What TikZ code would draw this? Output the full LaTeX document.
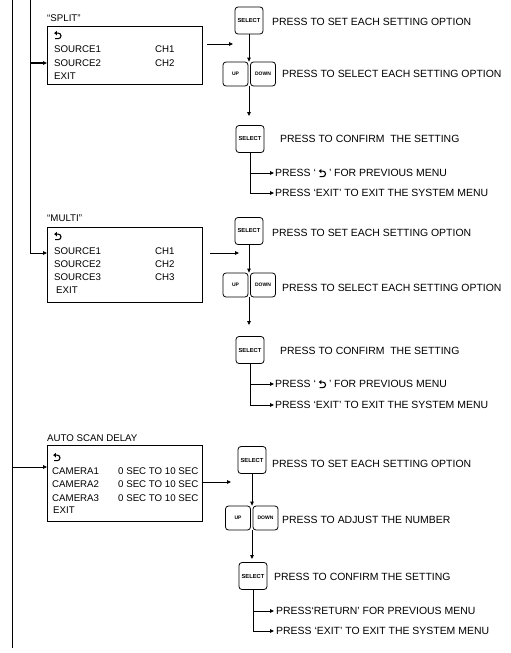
\documentclass[tikz,border=0pt]{standalone}
\usepackage{fontspec}
\setmainfont{Liberation Sans}
\usetikzlibrary{arrows.meta}
\newcommand\retsym{\tikz[baseline=0pt,x=1pt,y=1pt,line width=1.1pt]{\draw (0.8,0) -- (4,0) arc[start angle=-90,end angle=90,radius=2.8] -- (2,5.6); \fill (0,5.6) -- (2.7,7.9) -- (2.7,3.3) -- cycle;}}
\tikzset{
  menubox/.style={draw, line width=0.8pt, anchor=north west, inner sep=0pt, minimum width=155pt},
  mtxt/.style={anchor=west, inner sep=0pt, font=\fontsize{9.7}{11}\selectfont},
  ptxt/.style={anchor=west, inner sep=0pt, font=\fontsize{10.45}{12}\selectfont},
  selbtn/.style={draw, rounded corners=3pt, line width=0.8pt, minimum width=28pt, minimum height=27pt, inner sep=0pt, font=\bfseries\fontsize{5.8}{7}\selectfont},
  udbtn/.style={draw, rounded corners=3pt, line width=0.8pt, minimum width=25pt, minimum height=24pt, inner sep=0pt, font=\bfseries\fontsize{5}{6}\selectfont},
  conn/.style={line width=0.8pt},
  arr/.style={conn, -{Triangle[length=4pt,width=3.6pt]}},
}
\begin{document}
\begin{tikzpicture}[x=1pt,y=-1pt]
\useasboundingbox (0,0) rectangle (511,653);

% ---------- menu boxes ----------
\node[mtxt] (splitlbl) at (47,18) {“SPLIT”};
\node[menubox, minimum height=58pt] (splitbox) at (47,26) {};
\node[mtxt] (si) at (54,35) {\retsym};
\node[mtxt] (s1) at (54,49) {SOURCE1};
\node[mtxt] (s1c) at (155,49) {CH1};
\node[mtxt] (s2) at (54,63) {SOURCE2};
\node[mtxt] (s2c) at (155,63) {CH2};
\node[mtxt] (sx) at (54,76) {EXIT};

\node[mtxt] (multilbl) at (47,218) {“MULTI”};
\node[menubox, minimum height=75pt] (multibox) at (47,227) {};
\node[mtxt] (mi) at (54,236) {\retsym};
\node[mtxt] (m1) at (54,251) {SOURCE1};
\node[mtxt] (m1c) at (155,251) {CH1};
\node[mtxt] (m2) at (54,264) {SOURCE2};
\node[mtxt] (m2c) at (155,264) {CH2};
\node[mtxt] (m3) at (54,277) {SOURCE3};
\node[mtxt] (m3c) at (155,277) {CH3};
\node[mtxt] (mx) at (56,290) {EXIT};

\node[mtxt] (autolbl) at (47,438) {AUTO SCAN DELAY};
\node[menubox, minimum height=76pt] (autobox) at (47,445) {};
\node[mtxt] (ai) at (53,457) {\retsym};
\node[mtxt] (a1) at (52,471) {CAMERA1};
\node[mtxt] (a1c) at (118,471) {0 SEC TO 10 SEC};
\node[mtxt] (a2) at (52,484) {CAMERA2};
\node[mtxt] (a2c) at (118,484) {0 SEC TO 10 SEC};
\node[mtxt] (a3) at (52,498) {CAMERA3};
\node[mtxt] (a3c) at (118,498) {0 SEC TO 10 SEC};
\node[mtxt] (ax) at (53,510) {EXIT};

% ---------- left trunk ----------
\coordinate (t1top) at (12,0);
\coordinate (t1bot) at (12,648);
\coordinate (t2top) at (30,0);
\coordinate (jsplit) at (30,63);
\coordinate (jmulti) at (30,253);
\coordinate (jauto) at (12,467);
\draw[conn] (t1top) -- (t1bot);
\draw[arr] (t2top) -- (jmulti) -- (jmulti -| multibox.west);
\draw[arr, line width=1.1pt] (jsplit) -- (jsplit -| splitbox.west);
\draw[arr] (jauto) -- (jauto -| autobox.west);

% ---------- section 1 ----------
\node[selbtn] (sel1) at (249,20.5) {SELECT};
\node[ptxt] (t1) at (272,22) {PRESS TO SET EACH SETTING OPTION};
\node[udbtn] (up1) at (235.5,74) {UP};
\node[udbtn] (dn1) at (263,74) {DOWN};
\node[ptxt] (t2) at (282,74) {PRESS TO SELECT EACH SETTING OPTION};
\node[selbtn] (sel2) at (250,139) {SELECT};
\node[ptxt] (t3) at (280,139) {PRESS TO CONFIRM~ THE SETTING};
\node[ptxt] (r1a) at (275,173) {PRESS ‘ \retsym\ ’ FOR PREVIOUS MENU};
\node[ptxt] (r1b) at (275,193) {PRESS ‘EXIT’ TO EXIT THE SYSTEM MENU};
\coordinate (o1s) at (207,44);
\coordinate (o1e) at (233,44);
\coordinate (c1) at (249,116);
\draw[arr] (o1s) -- (o1e);
\draw[arr] (sel1.south) -- (sel1.south |- up1.north);
\draw[arr] (sel1.south |- up1.south) -- (c1);
\draw[arr, shorten >=1pt] (sel2.south) |- (r1a.west);
\draw[arr, shorten >=1pt] (sel2.south) |- (r1b.west);

% ---------- section 2 ----------
\node[selbtn] (sel3) at (249,231) {SELECT};
\node[ptxt] (t4) at (272,233) {PRESS TO SET EACH SETTING OPTION};
\node[udbtn] (up3) at (235.5,285) {UP};
\node[udbtn] (dn3) at (263,285) {DOWN};
\node[ptxt] (t5) at (282,288) {PRESS TO SELECT EACH SETTING OPTION};
\node[selbtn] (sel4) at (250,350) {SELECT};
\node[ptxt] (t6) at (280,351) {PRESS TO CONFIRM~ THE SETTING};
\node[ptxt] (r2a) at (275,384) {PRESS ‘ \retsym\ ’ FOR PREVIOUS MENU};
\node[ptxt] (r2b) at (275,405) {PRESS ‘EXIT’ TO EXIT THE SYSTEM MENU};
\coordinate (o2s) at (210,253);
\coordinate (o2e) at (239,253);
\coordinate (c2) at (249,325);
\draw[arr] (o2s) -- (o2e);
\draw[arr] (sel3.south) -- (sel3.south |- up3.north);
\draw[arr] (sel3.south |- up3.south) -- (c2);
\draw[arr, shorten >=1pt] (sel4.south) |- (r2a.west);
\draw[arr, shorten >=1pt] (sel4.south) |- (r2b.west);

% ---------- section 3 ----------
\node[selbtn] (sel5) at (252,460) {SELECT};
\node[ptxt] (t7) at (272,464) {PRESS TO SET EACH SETTING OPTION};
\node[udbtn] (up5) at (238,518) {UP};
\node[udbtn] (dn5) at (265.5,518) {DOWN};
\node[ptxt] (t8) at (282,520) {PRESS TO ADJUST THE NUMBER};
\node[selbtn] (sel6) at (253,576) {SELECT};
\node[ptxt] (t9) at (274,577) {PRESS TO CONFIRM THE SETTING};
\node[ptxt] (r3a) at (276,611) {PRESS‘RETURN’ FOR PREVIOUS MENU};
\node[ptxt] (r3b) at (276,631) {PRESS ‘EXIT’ TO EXIT THE SYSTEM MENU};
\coordinate (o3s) at (203,482);
\coordinate (o3e) at (231,482);
\coordinate (c3) at (252,559);
\draw[arr] (o3s) -- (o3e);
\draw[arr] (sel5.south) -- (sel5.south |- up5.north);
\draw[arr] (sel5.south |- up5.south) -- (c3);
\draw[arr, shorten >=2pt] (sel6.south) |- (r3a.west);
\draw[arr, shorten >=2pt] (sel6.south) |- (r3b.west);
\end{tikzpicture}
\end{document}
